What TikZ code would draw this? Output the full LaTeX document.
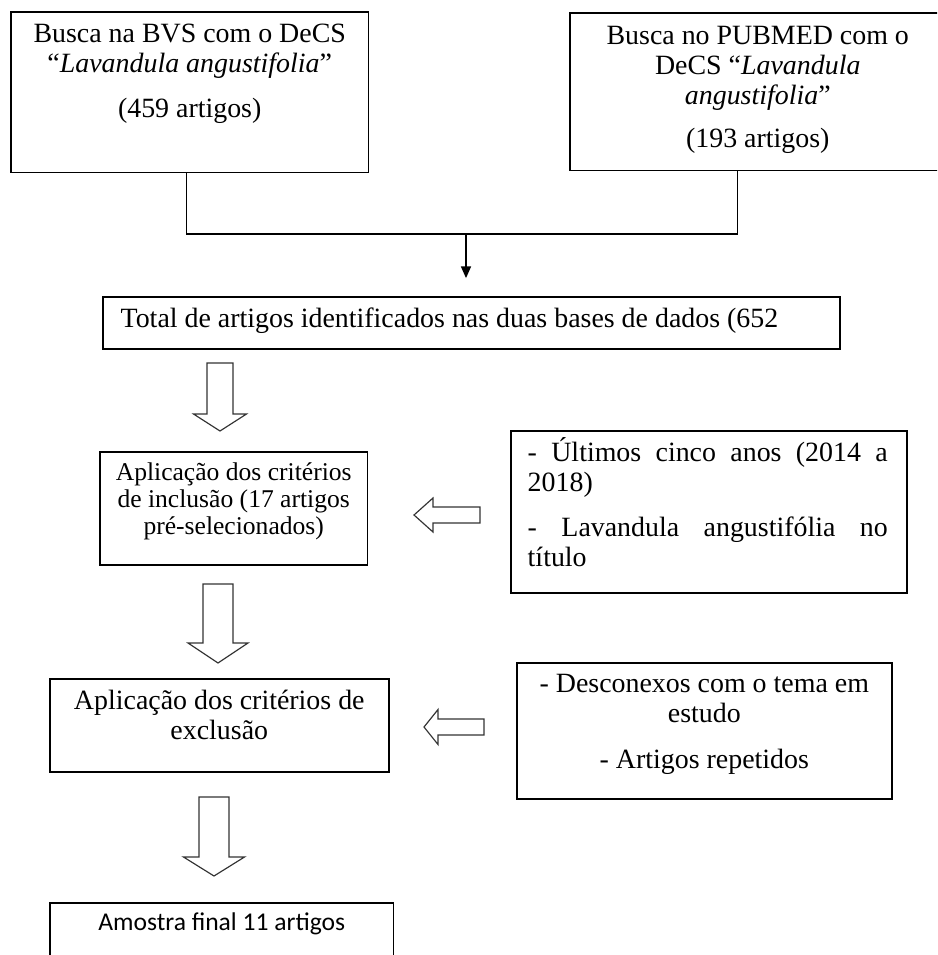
\documentclass[tikz,border=0pt]{standalone}
\usepackage{fontspec}
\setmainfont{Liberation Serif}
\newfontfamily\calibrifont{Carlito}
\usepackage{tikz}
\usetikzlibrary{
    positioning,
    arrows.meta,
    calc
}
\tikzset{
    flowbox/.style n args={3}{
        draw, line width=0.65pt, inner sep=0pt, anchor=north west,
        font={\fontsize{12}{13}\selectfont},
        execute at begin node={\begin{minipage}[c][#2][t]{#1}\vspace*{#3}\centering\strut},
        execute at end node={\end{minipage}}
    },
    link/.style={
        line width=0.55pt, draw=black
    },
    hollowline/.style={
        line width=0.5pt, draw=black!80, fill=white
    },
    pics/hollowarrow/.style n args={4}{
        code={
            \draw[hollowline] (0,-#2) -- (#1-#4,-#2) -- (#1-#4,-#3) -- (#1,0)
                -- (#1-#4,#3) -- (#1-#4,#2) -- (0,#2) -- cycle;
        }
    }
}

\begin{document}
\begin{tikzpicture}[x=0.43pt, y=-0.43pt]
    \useasboundingbox (0,0) rectangle (937,955);
    \clip (0,0) rectangle (937,955);

    % the two searches
    \node[flowbox={153.9pt}{69.2pt}{4pt}] (bvs) at (10,11) {Busca na BVS com o DeCS\\ “\textit{Lavandula angustifolia}”\\[6.3pt] (459 artigos)};
    \node[flowbox={161.7pt}{67.9pt}{4.4pt}] (pubmed) at (569,12) {Busca no PUBMED com o\\ DeCS “\textit{Lavandula}\\ \textit{angustifolia}”\\[5.5pt] (193 artigos)};

    \node[flowbox={316.9pt}{22.4pt}{4pt}] (total) at (102,296) {\raggedright\hspace*{7.7pt}Total de artigos identificados nas duas bases de dados (652\par};

    \coordinate (join) at (466,234);
    \draw[link] ([xshift=-1.3pt]bvs.south) |- (join) -| ([xshift=-8.6pt]pubmed.south);
    \draw[link, -{Triangle[length=5pt, width=4.3pt]}, shorten >=7.7pt] (join) -- (join |- total.north);

    % inclusion
    \node[flowbox={115.2pt}{48.6pt}{4.2pt}, font={\fontsize{11}{11.6}\selectfont}] (incl) at (99,451) {Aplicação dos critérios\\ de inclusão (17 artigos\\ pré-selecionados)};
    \node[flowbox={170.3pt}{69.7pt}{2.8pt}] (inclcrit) at (510,430) {\leftskip=7.3pt \rightskip=8.2pt \parfillskip=0pt plus 1fil\relax
        - Últimos cinco anos (2014 a\linebreak 2018)\par\vspace{6.3pt}- Lavandula angustifólia no\linebreak título\par};

    % exclusion
    \node[flowbox={145.8pt}{40pt}{4pt}] (excl) at (49,678) {Aplicação dos critérios de\\ exclusão};
    \node[flowbox={161.3pt}{58.5pt}{3.5pt}] (exclcrit) at (516,662) {- Desconexos com o tema em\\ estudo\\[6.8pt] - Artigos repetidos};

    \node[flowbox={147.9pt}{34.4pt}{2.7pt}, font={\fontsize{11}{13}\calibrifont}] (final) at (49,902) {Amostra final 11 artigos};

    % block arrows
    \pic[rotate=-90] (downA) at (220,363) {hollowarrow={68}{13}{26.5}{17}};
    \pic[rotate=-90] (downB) at (218,584) {hollowarrow={79}{15}{30}{20}};
    \pic[rotate=-90] (downC) at (214,797) {hollowarrow={79}{15}{30.5}{19}};
    \pic[rotate=180] (leftA) at (480,515) {hollowarrow={66}{8}{17}{19}};
    \pic[rotate=180] (leftB) at (484,727) {hollowarrow={60}{8}{17.5}{14}};

\end{tikzpicture}
\end{document}
